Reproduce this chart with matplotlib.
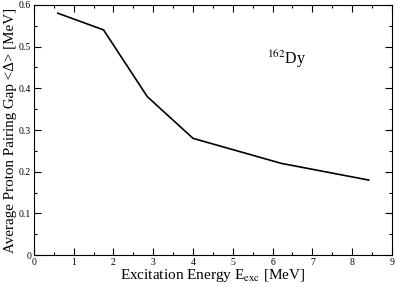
import matplotlib
matplotlib.use("Agg")
import matplotlib.pyplot as plt
from matplotlib.ticker import MultipleLocator

excitation = [0.6, 1.75, 2.85, 4.0, 6.22, 8.42]
gap = [0.58, 0.54, 0.38, 0.28, 0.22, 0.18]
yticks = [0, 0.1, 0.2, 0.3, 0.4, 0.5, 0.6]
yticklabels = ['0', '0.1', '0.2', '0.3', '0.4', '0.5', '0.6']

plt.rcParams['font.family'] = ['Liberation Serif', 'DejaVu Serif']
plt.rcParams['mathtext.fontset'] = 'stix'

fig = plt.figure(figsize=(3.95, 2.87), dpi=100)
ax = fig.add_axes([0.086, 0.111, 0.906, 0.872])
ax.plot(excitation, gap, color='black', lw=1.2)
ax.set_xlim(0, 9)
ax.set_ylim(0, 0.6)
ax.xaxis.set_major_locator(MultipleLocator(1))
ax.xaxis.set_minor_locator(MultipleLocator(0.5))
ax.set_yticks(yticks)
ax.set_yticklabels(yticklabels)
ax.yaxis.set_minor_locator(MultipleLocator(0.05))
ax.tick_params(which='both', direction='in', top=True, right=True, labelsize=7, pad=2)
ax.tick_params(which='major', length=5, width=0.8)
ax.tick_params(which='minor', length=2.5, width=0.8)
for s in ax.spines.values():
    s.set_linewidth(0.8)
ax.set_xlabel('Excitation Energy E$_{\\mathrm{exc}}$ [MeV]', fontsize=11, labelpad=0)
ax.set_ylabel('Average Proton Pairing Gap <Δ> [MeV]', fontsize=10.8, labelpad=1)
ax.text(5.85, 0.458, '$^{162}$Dy', fontsize=11.5)
fig.savefig('out.png', dpi=100)
